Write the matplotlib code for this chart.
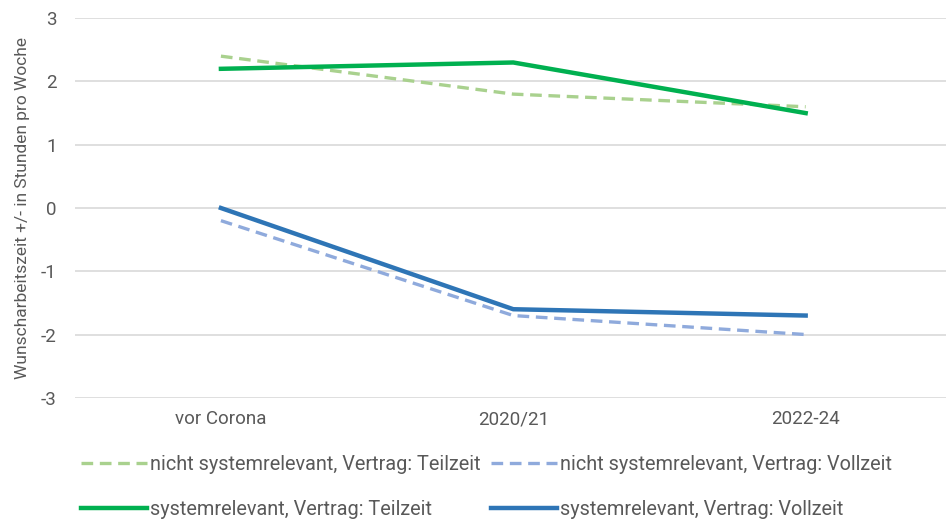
import matplotlib.pyplot as plt

plt.rcParams['font.family'] = ['Roboto', 'DejaVu Sans']
plt.rcParams['axes.unicode_minus'] = False

categories = ["vor Corona", "2020/21", "2022-24"]
nicht_teilzeit = [2.4, 1.8, 1.6]
nicht_vollzeit = [-0.2, -1.7, -2.0]
sys_teilzeit = [2.2, 2.3, 1.5]
sys_vollzeit = [0.0, -1.6, -1.7]
yticks = [-3, -2, -1, 0, 1, 2, 3]

fig = plt.figure(figsize=(9.46, 5.2), dpi=100)
ax = fig.add_axes([0.079, 0.235, 0.921, 0.73])

x = range(len(categories))
dash = (0, (3.5, 2.0))
l1, = ax.plot(x, nicht_teilzeit, color="#a9d18e", lw=2.4, ls=dash,
              label="nicht systemrelevant, Vertrag: Teilzeit")
l2, = ax.plot(x, nicht_vollzeit, color="#8faadc", lw=2.4, ls=dash,
              label="nicht systemrelevant, Vertrag: Vollzeit")
l3, = ax.plot(x, sys_teilzeit, color="#00b050", lw=3.2,
              label="systemrelevant, Vertrag: Teilzeit")
l4, = ax.plot(x, sys_vollzeit, color="#2e75b6", lw=3.2,
              label="systemrelevant, Vertrag: Vollzeit")

ax.set_xlim(-0.5, 2.48)
ax.set_ylim(-3, 3)
ax.set_yticks(yticks)
ax.set_xticks(list(x))
ax.set_xticklabels(categories)
ax.yaxis.grid(True, color="#d9d9d9", lw=1.2)
ax.set_axisbelow(True)
for s in ax.spines.values():
    s.set_visible(False)
ax.tick_params(length=0, labelsize=13.5, colors="#595959")
ax.tick_params(axis="y", pad=13)
ax.tick_params(axis="x", pad=9)
ax.set_ylabel("Wunscharbeitszeit +/- in Stunden pro Woche", fontsize=12.5,
              color="#595959", labelpad=8)

fig.legend([l1, l3, l2, l4], [h.get_label() for h in (l1, l3, l2, l4)],
           ncol=2, loc="lower left", bbox_to_anchor=(0.067, -0.032),
           frameon=False, fontsize=14.3, handlelength=3.3, handletextpad=0.15,
           columnspacing=0.55, labelspacing=1.3, labelcolor="#595959")

fig.savefig("out.png", dpi=100)
